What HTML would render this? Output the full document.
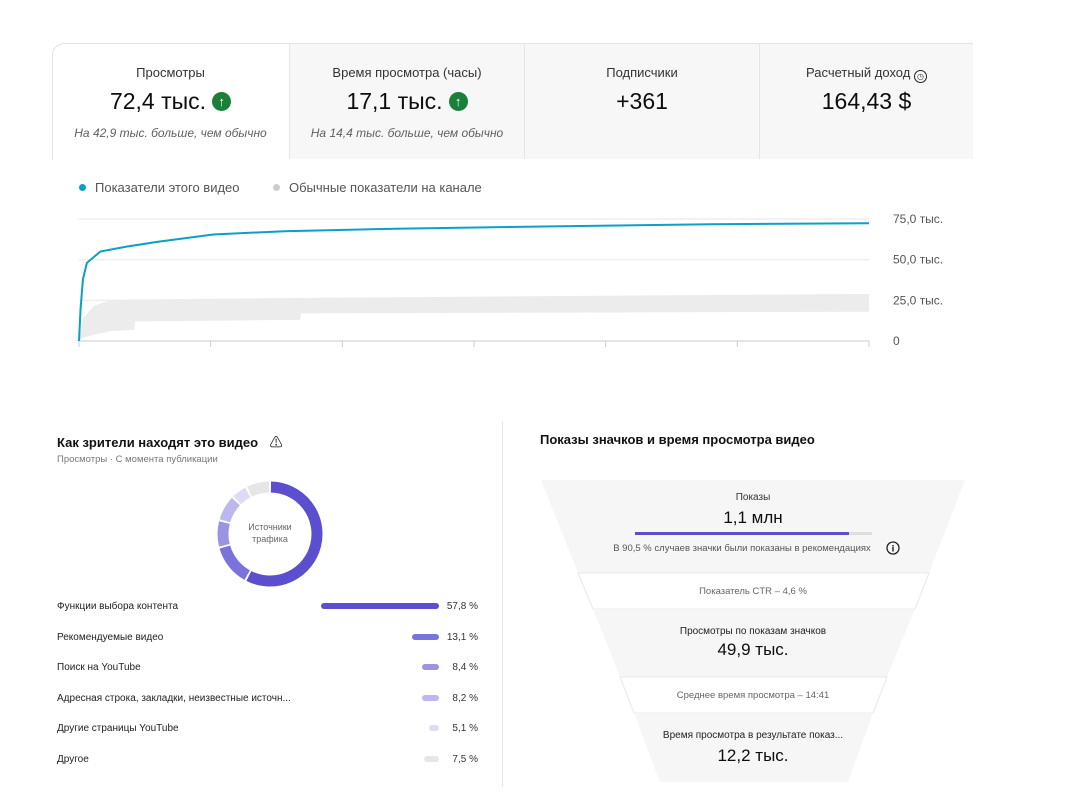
<!DOCTYPE html>
<html><head><meta charset="utf-8">
<style>
body{margin:0;width:1083px;height:812px;background:#fff;font-family:"Liberation Sans","Noto Sans CJK SC",sans-serif;position:relative;overflow:hidden;color:#0d0d0d}
.abs{position:absolute}
.card{position:absolute;top:44px;height:115px;text-align:center}
.card .t{position:absolute;top:21px;left:0;right:0;font-size:13px;color:#333}
.card .v{position:absolute;top:44px;left:0;right:0;font-size:23px;color:#0d0d0d}
.card .s{position:absolute;top:82px;left:0;right:0;font-size:12px;font-style:italic;color:#606060}
.up{display:inline-block;width:19px;height:19px;border-radius:50%;background:#1a7f37;color:#fff;font-size:13px;line-height:19px;vertical-align:3px;margin-left:6px;font-weight:bold}
.row{position:absolute;left:57px;font-size:10px;color:#222}
.pct{position:absolute;font-size:10px;color:#333;text-align:right;width:50px;left:428px}
.bar{position:absolute;height:6px;border-radius:3px}
.fl{position:absolute;left:541px;width:424px;text-align:center}
</style></head><body>
<div class="abs" style="left:52px;top:43px;width:920px;height:116px;border:1px solid #e5e5e5;border-right:none;border-bottom:none;border-radius:12px 0 0 0"></div>
<div class="card" style="left:53px;width:235px;background:#fff;border-radius:12px 0 0 0">
<div class="t">Просмотры</div>
<div class="v">72,4 тыс.<span class="up">↑</span></div>
<div class="s">На 42,9 тыс. больше, чем обычно</div></div>
<div class="card" style="left:289px;width:234px;background:#f7f7f7;border-left:1px solid #e5e5e5">
<div class="t">Время просмотра (часы)</div>
<div class="v">17,1 тыс.<span class="up">↑</span></div>
<div class="s">На 14,4 тыс. больше, чем обычно</div></div>
<div class="card" style="left:524px;width:234px;background:#f7f7f7;border-left:1px solid #e5e5e5">
<div class="t">Подписчики</div>
<div class="v">+361</div></div>
<div class="card" style="left:759px;width:213px;background:#f7f7f7;border-left:1px solid #e5e5e5">
<div class="t">Расчетный доход <span style="display:inline-block;width:11px;height:11px;border:1.5px solid #222;border-radius:50%;vertical-align:-2px;font-size:8px;line-height:11px">◷</span></div>
<div class="v">164,43 $</div></div>

<div class="abs" style="left:79px;top:180px;font-size:13px;color:#555"><span style="display:inline-block;width:7px;height:7px;border-radius:50%;background:#0aa0c8;margin-right:9px;vertical-align:1px"></span>Показатели этого видео</div>
<div class="abs" style="left:273px;top:180px;font-size:13px;color:#555"><span style="display:inline-block;width:7px;height:7px;border-radius:50%;background:#ccc;margin-right:9px;vertical-align:1px"></span>Обычные показатели на канале</div>

<svg class="abs" style="left:0;top:0" width="1083" height="812">
<g id="grid"></g><path id="band" fill="#ececec"/><path id="line" fill="none" stroke="#0aa0c8" stroke-width="2"/><g id="ticks"></g>
</svg>
<script>
const fracs=[0,0.002,0.005,0.01,0.027,0.06,0.1,0.17,0.26,0.4,0.6,0.8,1];
const views=[0,20,38,48,55,58,61,65.5,67.5,69,70.5,71.8,72.4];
const bandX=[0,0.005,0.02,0.04,0.07,0.071,0.28,0.281,1];
const bandHi=[0,14,22,25,25.5,25.5,26.5,26.5,29];
const bandLo=[0,2,4,6,7,12,13,17,18];
const yTicks=[0,25,50,75];
const yLabels=["0","25,0 тыс.","50,0 тыс.","75,0 тыс."];
const X=f=>79+f*790, Y=v=>341-v*122/75;
const g=document.getElementById('grid');
yTicks.forEach((t,i)=>{
 const l=document.createElementNS('http://www.w3.org/2000/svg','line');
 l.setAttribute('x1',79);l.setAttribute('x2',869);l.setAttribute('y1',Y(t));l.setAttribute('y2',Y(t));
 l.setAttribute('stroke',t==0?'#ccc':'#eee');l.setAttribute('stroke-width',t==0?1:1.5);
 
 
 g.appendChild(l);
 const tx=document.createElementNS('http://www.w3.org/2000/svg','text');
 tx.setAttribute('x',893);tx.setAttribute('y',Y(t)+4);tx.setAttribute('font-size','12');tx.setAttribute('fill','#555');
 tx.textContent=yLabels[i];
 
 
 g.appendChild(tx);
});
for(let i=0;i<=6;i++){const x=79+i*790/6;
 const l=document.createElementNS('http://www.w3.org/2000/svg','line');
 l.setAttribute('x1',x);l.setAttribute('x2',x);l.setAttribute('y1',341);l.setAttribute('y2',347);l.setAttribute('stroke','#ccc');
 
 
 g.appendChild(l);}
let d=bandX.map((f,i)=>(i?'L':'M')+X(f)+','+Y(bandHi[i])).join('');
for(let i=bandX.length-1;i>=0;i--)d+='L'+X(bandX[i])+','+Y(bandLo[i]);
const band=document.getElementById('band');band.setAttribute('d',d+'Z');


const line=document.getElementById('line');
line.setAttribute('d',fracs.map((f,i)=>(i?'L':'M')+X(f)+','+Y(views[i])).join(''));


</script>

<div class="abs" style="left:502px;top:422px;width:1px;height:365px;background:#e5e5e5"></div>
<div class="abs" style="left:57px;top:432px;font-size:13px;font-weight:bold;color:#111">Как зрители находят это видео <span style="margin-left:8px;font-weight:normal">⚠</span></div>
<div class="abs" style="left:57px;top:454px;font-size:9.5px;color:#777">Просмотры · С момента публикации</div>
<svg class="abs" style="left:210px;top:474px" width="120" height="120"><g id="donut"></g>
<text x="60" y="56" text-anchor="middle" font-size="9" fill="#666">Источники</text><text x="60" y="68" text-anchor="middle" font-size="9" fill="#666">трафика</text></svg>
<div id="rows"></div>
<script>
const srcNames=["Функции выбора контента","Рекомендуемые видео","Поиск на YouTube","Адресная строка, закладки, неизвестные источн...","Другие страницы YouTube","Другое"];
const srcVals=[57.8,13.1,8.4,8.2,5.1,7.5];
const srcLabels=["57,8 %","13,1 %","8,4 %","8,2 %","5,1 %","7,5 %"];
const colors=["#5b4fd0","#7b73dc","#9b94e4","#bcb7ee","#dddbf6","#e6e6e6"];
const dg=document.getElementById('donut');
const tot=srcVals.reduce((a,b)=>a+b,0);let a0=0;
srcVals.forEach((v,i)=>{
 const a1=a0+v/tot*2*Math.PI, gap=0.04, r=47, cx=60, cy=60;
 const s=a0+gap/2, e=a1-gap/2;
 const p=document.createElementNS('http://www.w3.org/2000/svg','path');
 p.setAttribute('d',`M${cx+r*Math.sin(s)},${cy-r*Math.cos(s)}A${r},${r} 0 ${e-s>Math.PI?1:0} 1 ${cx+r*Math.sin(e)},${cy-r*Math.cos(e)}`);
 p.setAttribute('fill','none');p.setAttribute('stroke',colors[i]);p.setAttribute('stroke-width',11);
 
 
 dg.appendChild(p);a0=a1;});
const rows=document.getElementById('rows');
srcVals.forEach((v,i)=>{const y=607+i*30.6;
 const t=document.createElement('div');t.className='row';t.style.top=(y-6)+'px';t.textContent=srcNames[i];
 
 
 rows.appendChild(t);
 const b=document.createElement('div');b.className='bar';const w=Math.max(v*2.04,10);
 b.style.left=(439-w)+'px';b.style.width=w+'px';b.style.top=(y-4)+'px';b.style.background=colors[i];
 
 
 rows.appendChild(b);
 const p=document.createElement('div');p.className='pct';p.style.top=(y-6)+'px';p.textContent=srcLabels[i];
 
 
 rows.appendChild(p);});
</script>

<div class="abs" style="left:540px;top:432px;font-size:13px;font-weight:bold;color:#111">Показы значков и время просмотра видео</div>
<svg class="abs" style="left:0;top:0" width="1083" height="812">
<polygon points="541,480 965,480 929,573 578,573" fill="#f6f6f6"/>
<polygon points="578,573 929,573 915,609 593,609" fill="#fff" stroke="#e8e8e8"/>
<polygon points="593,609 915,609 887,677 620,677" fill="#f6f6f6"/>
<polygon points="620,677 887,677 873,713 634,713" fill="#fff" stroke="#e8e8e8"/>
<polygon points="634,713 873,713 848,782 660,782" fill="#f6f6f6"/>
<rect x="635" y="532" width="237" height="3" fill="#ddd"/><rect x="635" y="532" width="214" height="3" fill="#5b4fd0"/>
<circle cx="893" cy="548" r="6" fill="none" stroke="#222" stroke-width="1.3"/><text x="893" y="551.5" font-size="9" text-anchor="middle" font-weight="bold">i</text>
</svg>
<div class="fl" style="top:492px;font-size:10px;color:#333">Показы</div>
<div class="fl" style="top:508px;font-size:17px">1,1 млн</div>
<div class="fl" style="top:543px;font-size:9.5px;color:#555;left:530px">В 90,5 % случаев значки были показаны в рекомендациях</div>
<div class="fl" style="top:586px;font-size:9.5px;color:#666">Показатель CTR – 4,6 %</div>
<div class="fl" style="top:626px;font-size:10px;color:#222">Просмотры по показам значков</div>
<div class="fl" style="top:640px;font-size:17px">49,9 тыс.</div>
<div class="fl" style="top:690px;font-size:9.5px;color:#666">Среднее время просмотра – 14:41</div>
<div class="fl" style="top:730px;font-size:10px;color:#222">Время просмотра в результате показ...</div>
<div class="fl" style="top:746px;font-size:17px">12,2 тыс.</div>
</body></html>
